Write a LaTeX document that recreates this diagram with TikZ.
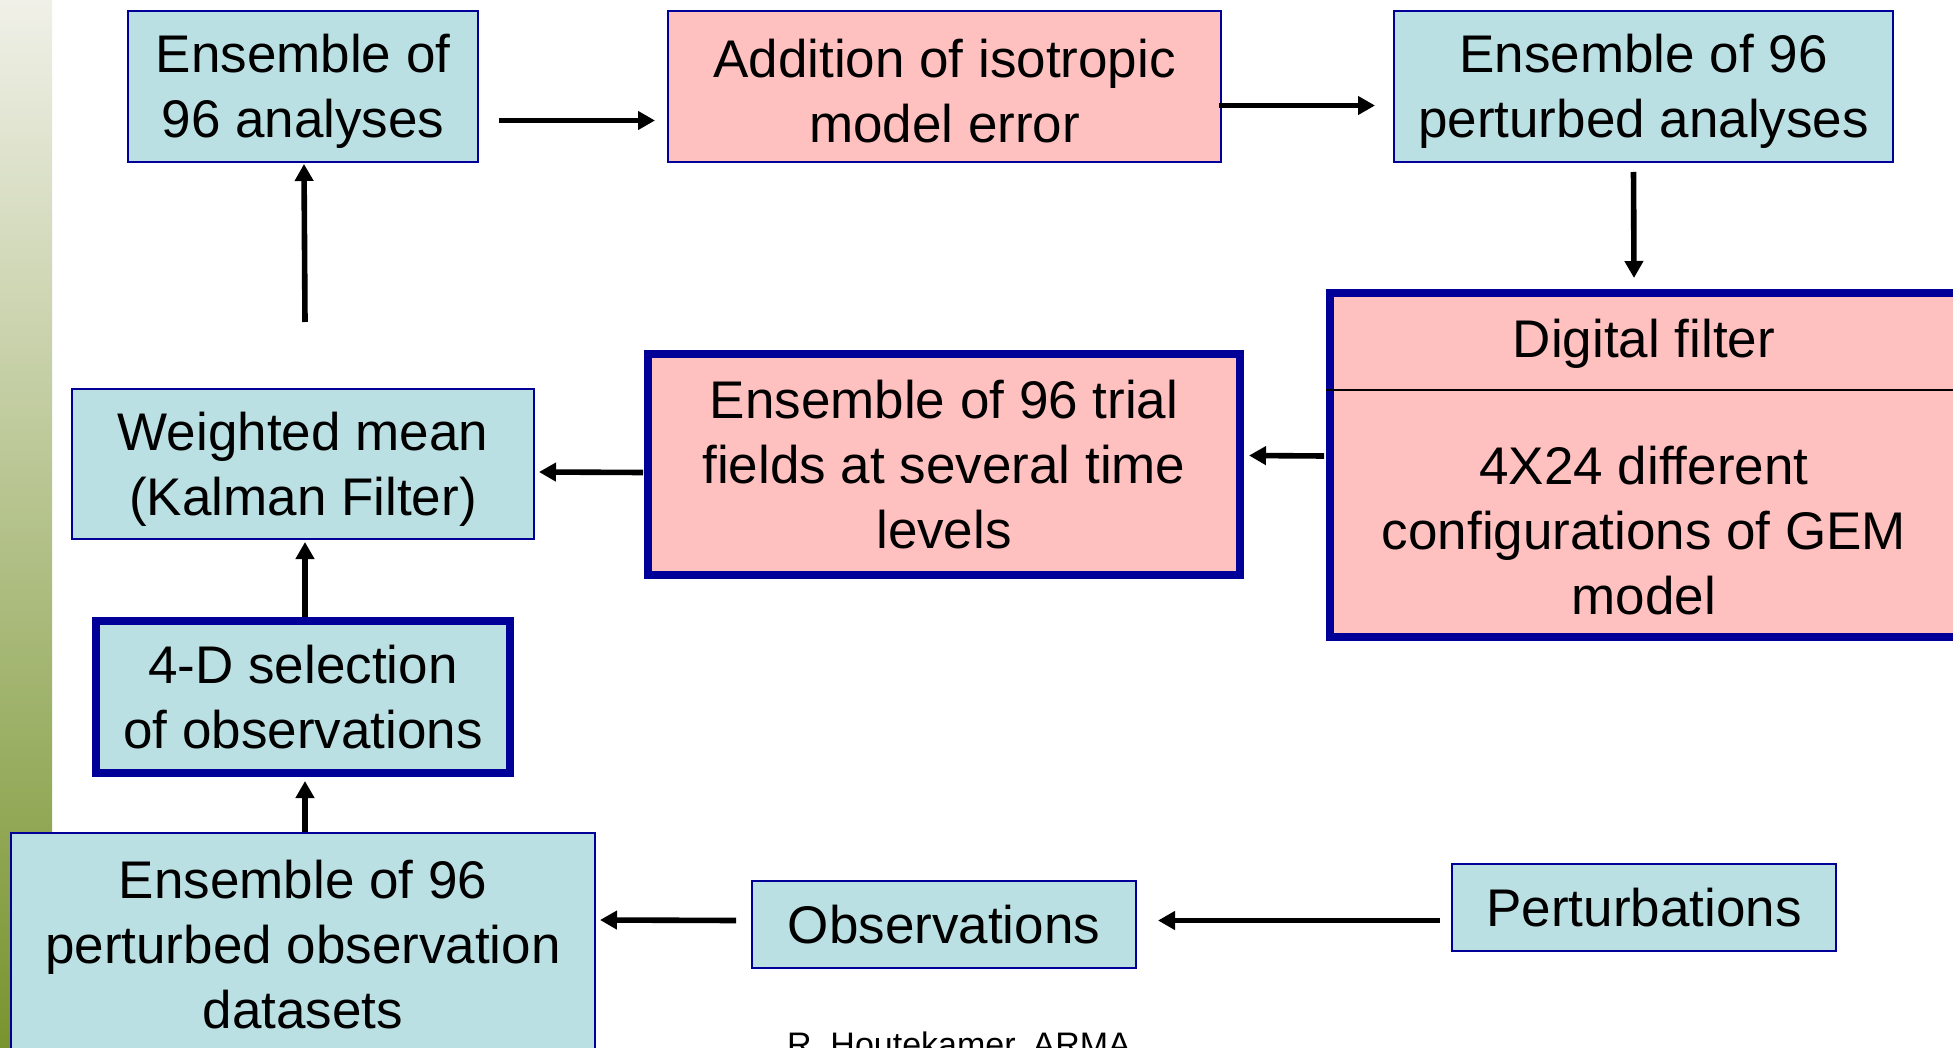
\documentclass[tikz,border=0pt]{standalone}
\usepackage{fontspec}
\setmainfont{Liberation Sans}
\usetikzlibrary{positioning,arrows.meta,calc}
\definecolor{cellcyan}{RGB}{187,224,227}
\definecolor{cellpink}{RGB}{255,192,192}
\definecolor{edgeblue}{RGB}{0,0,153}
\definecolor{barlight}{RGB}{240,240,232}
\definecolor{barmid}{RGB}{196,210,164}
\definecolor{bardark}{RGB}{120,148,46}
\tikzset{
  flowarrow/.style={-{Triangle[length=8.5pt, width=9pt]}, line width=2.8pt},
  cyanbox/.style={draw=edgeblue, line width=1pt, fill=cellcyan, align=center, inner sep=0pt},
  pinkbox/.style={draw=edgeblue, line width=1pt, fill=cellpink, align=center, inner sep=0pt},
  heavybox/.style={line width=4pt},
  lowtext/.style={text height=56.5pt},
  divline/.style={line width=0.8pt, black},
  footnode/.style={font=\fontsize{17}{20}\selectfont, anchor=base}
}

\begin{document}
\begin{tikzpicture}[x=0.5pt, y=-0.5pt, every node/.style={font=\fontsize{26.5}{32.5}\selectfont}]
  \path[use as bounding box, clip] (0,0) rectangle (1953,1048);
  \fill[white] (0,0) rectangle (1953,1048);
  \shade[top color=barlight, middle color=barmid, bottom color=bardark] (0,0) rectangle (52,1048);

  % top row
  \node[cyanbox, lowtext, minimum width=175pt, minimum height=75.5pt] (ana) at (303,86.5) {Ensemble of\\96 analyses};
  \node[pinkbox, lowtext, minimum width=276.5pt, minimum height=75.5pt] (iso) at (944.5,86.5) {Addition of isotropic\\model error};
  \node[cyanbox, lowtext, minimum width=249.5pt, minimum height=75.5pt] (pana) at (1643.5,86.5) {Ensemble of 96\\perturbed analyses};

  % middle row
  \node[pinkbox, heavybox, minimum width=314pt, minimum height=172pt] (dfilt) at (1644,465) {};
  \draw[divline] ($(dfilt.north west)+(0,101)$) -- ($(dfilt.north east)+(0,101)$);
  \node (dftop) at (1644,344) {Digital filter};
  \node[align=center] (dfbot) at (1644,531) {4X24 different\\configurations of GEM\\model};
  \node[pinkbox, heavybox, minimum width=296pt, minimum height=110.5pt] (trial) at (944,464.5) {Ensemble of 96 trial\\fields at several time\\levels};
  \node[cyanbox, lowtext, minimum width=231pt, minimum height=75pt] (wmean) at (303,464) {Weighted mean\\(Kalman Filter)};

  % lower rows
  \node[cyanbox, heavybox, minimum width=207pt, minimum height=76pt] (sel) at (303,697) {4-D selection\\of observations};
  \node[cyanbox, minimum width=292pt, minimum height=112.5pt] (pobs) at (303,945) {Ensemble of 96\\perturbed observation\\datasets};
  \node[cyanbox, minimum width=192pt, minimum height=43.5pt] (obs) at (944,924.5) {Observations};
  \node[cyanbox, minimum width=192pt, minimum height=43.5pt] (pert) at (1644,907.5) {Perturbations};

  \node[footnode] (foot) at (959,1056) {R. Houtekamer, ARMA};

  \draw[flowarrow] ($(ana.east)+(20,34)$) -- ($(iso.west)+(-12,34)$);
  \draw[flowarrow] ($(iso.east)+(-3,19)$) -- ($(pana.west)+(-18,19)$);
  \draw[flowarrow] ($(pana.south)+(-10,9)$) -- ($(dfilt.north)+(-10,-11)$);
  \draw[flowarrow] ($(dfilt.west)+(-2,-9)$) -- ($(trial.east)+(5,-9)$);
  \draw[flowarrow] ($(trial.west)+(-1,8)$) -- ($(wmean.east)+(4,8)$);
  \draw[flowarrow] ($(wmean.north)+(2,-66)$) -- ($(ana.south)+(1,1)$);
  \draw[flowarrow] ($(sel.north)+(2,0)$) -- ($(wmean.south)+(2,2)$);
  \draw[flowarrow] ($(pobs.north)+(2,0)$) -- ($(sel.south)+(2,4)$);
  \draw[flowarrow] ($(obs.west)+(-15,-4)$) -- ($(pobs.east)+(4,-25)$);
  \draw[flowarrow] ($(pert.west)+(-11,13)$) -- ($(obs.east)+(21,-4)$);
\end{tikzpicture}
\end{document}
